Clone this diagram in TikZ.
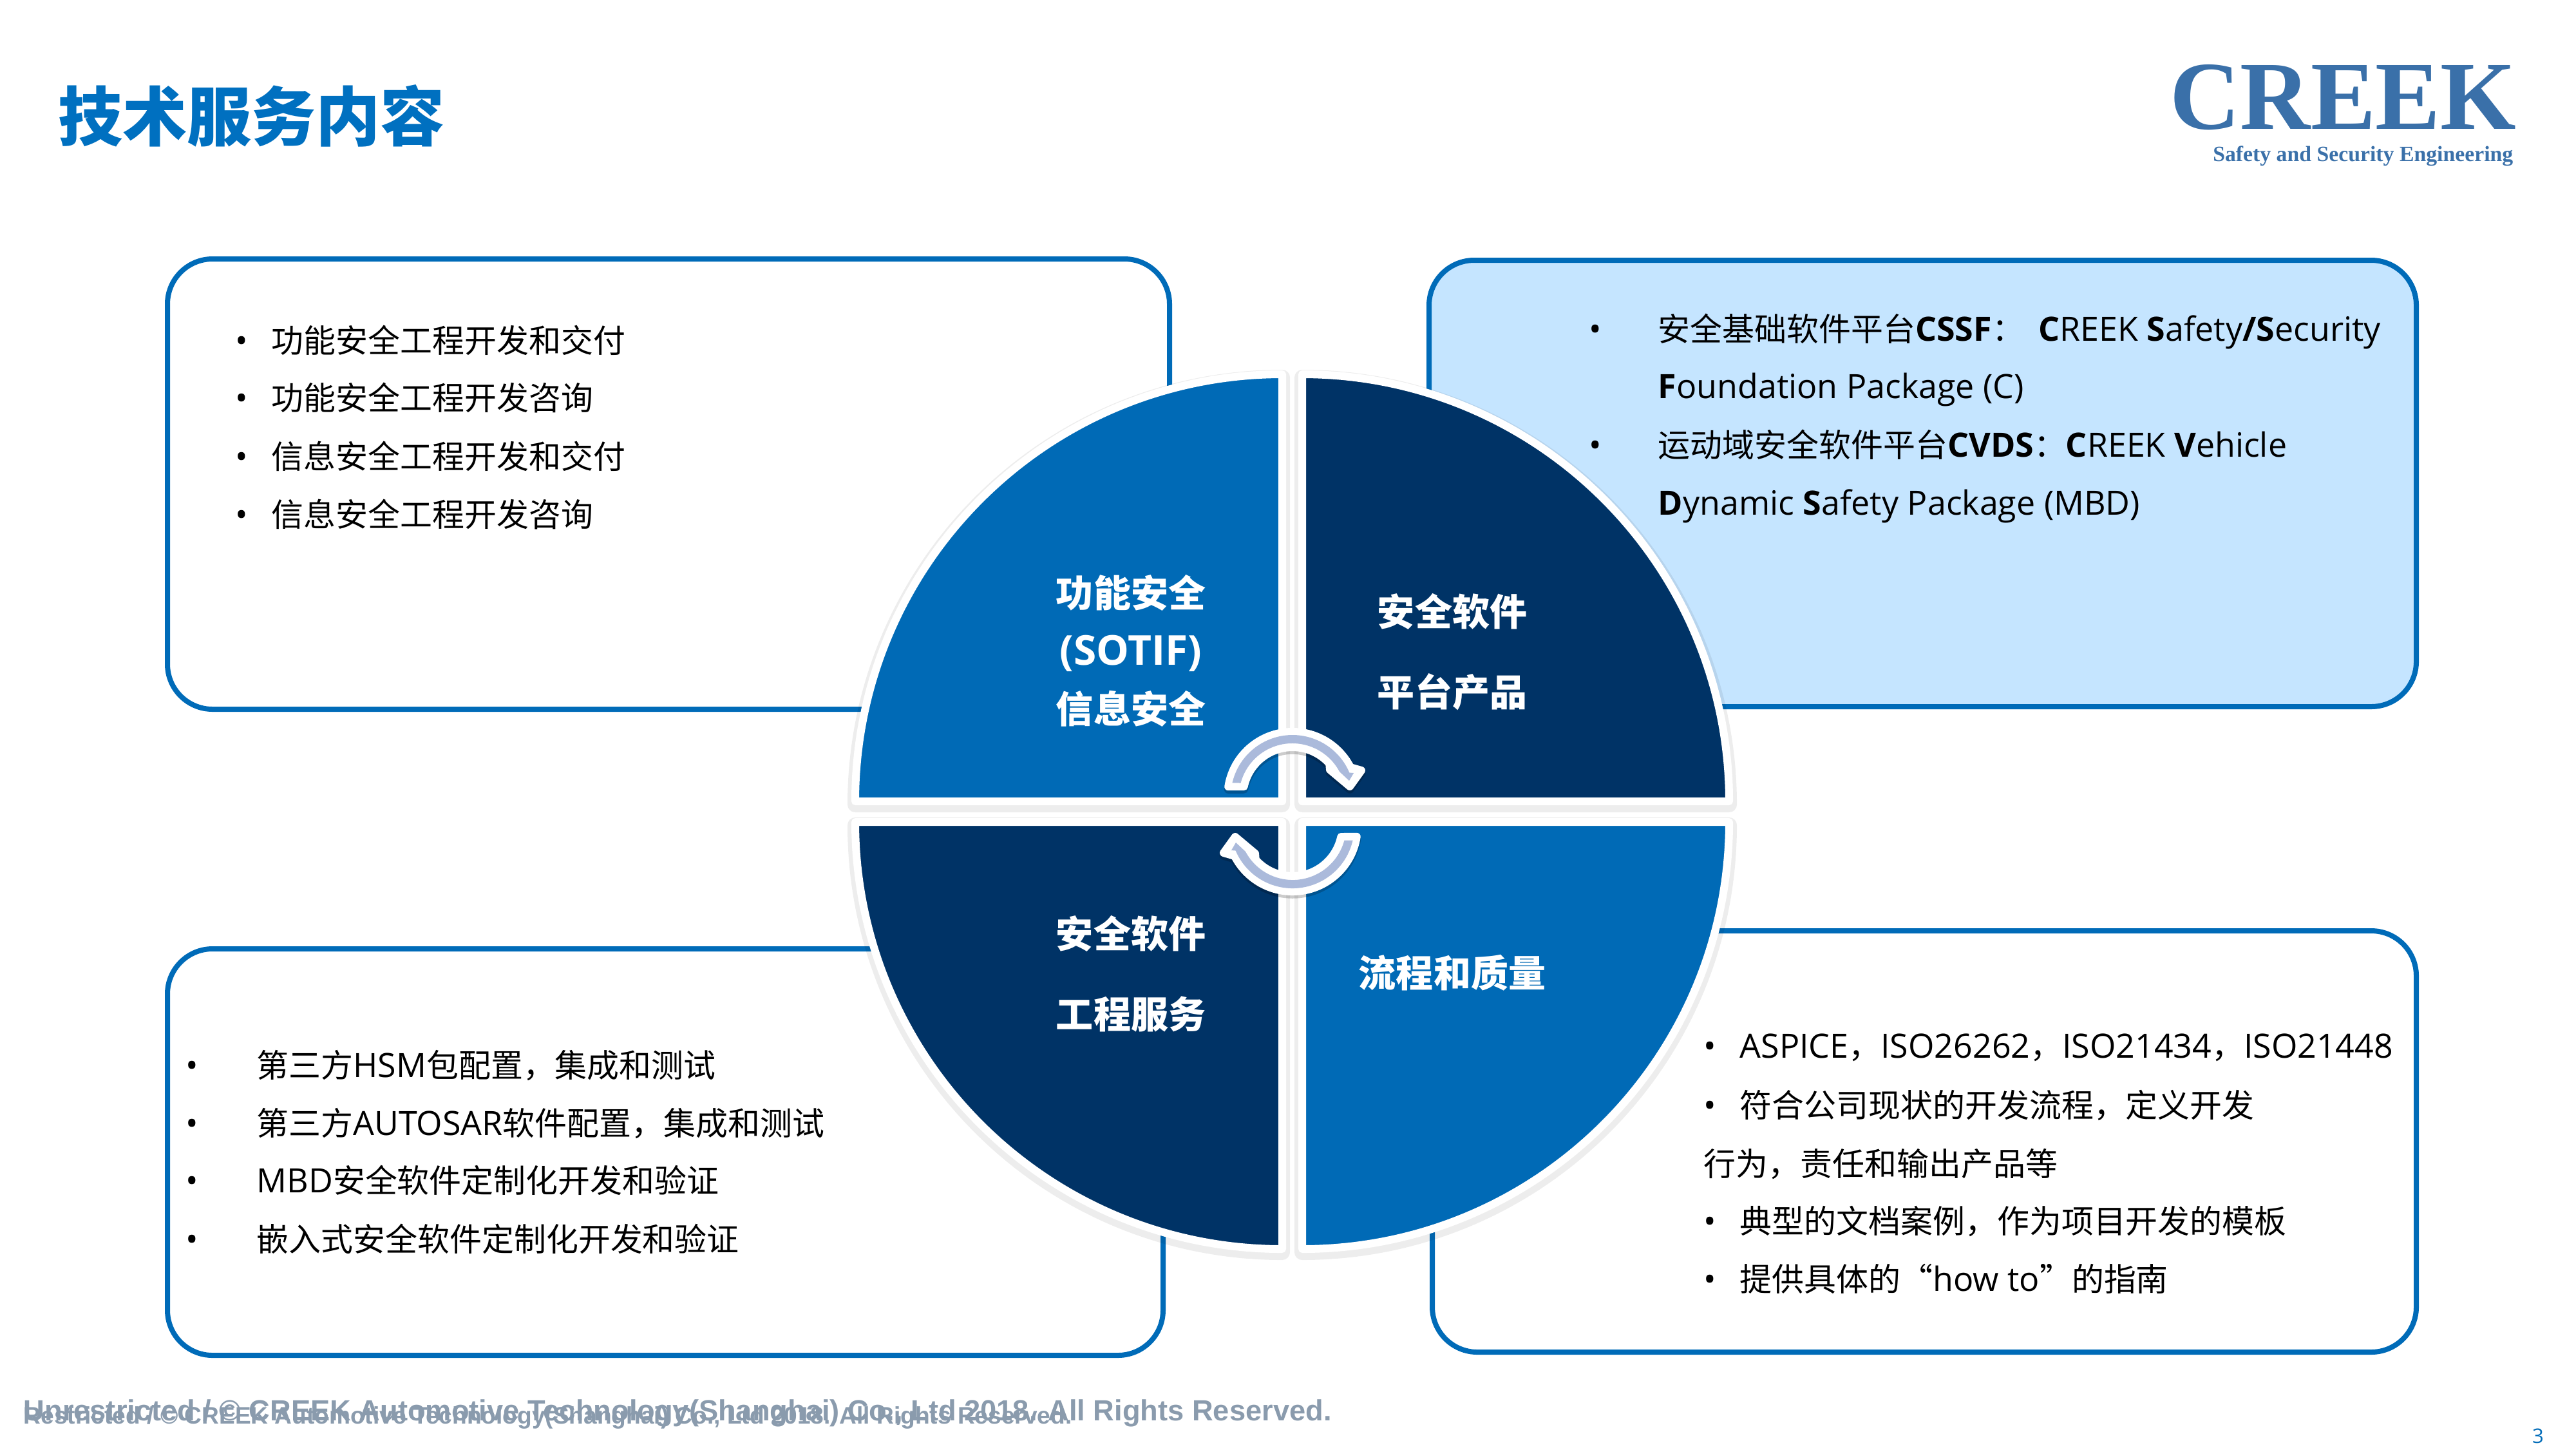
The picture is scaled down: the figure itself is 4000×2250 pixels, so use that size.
\documentclass[tikz,border=0pt]{standalone}
\usepackage{fontspec}
\setmainfont{Noto Sans CJK SC}
\newfontfamily\latinfont[Scale=1.04]{Open Sans}
\newfontfamily\footfont{Liberation Sans}
\newfontfamily\logofont{Liberation Serif}
\newcommand{\latn}[1]{{\latinfont #1}}
\newcommand{\latb}[1]{{\latinfont\bfseries #1}}
\definecolor{titleblue}{RGB}{0, 112, 192}
\definecolor{panelblue}{RGB}{0, 107, 184}
\definecolor{quadblue}{RGB}{0, 106, 182}
\definecolor{quadnavy}{RGB}{0, 51, 102}
\definecolor{panelfill}{RGB}{197, 229, 255}
\definecolor{turncolor}{RGB}{171, 186, 219}
\definecolor{footcolor}{RGB}{138, 155, 173}
\definecolor{logocolor}{RGB}{58, 112, 169}

\begin{document}
\begin{tikzpicture}[
    x=0.01cm, y=-0.01cm,
    panel/.style={draw=panelblue, line width=0.08cm, rounded corners=0.7cm},
    quadrant/.style={draw=white, line width=0.12cm, line join=round},
    quadshade/.style={fill=black, draw=black, line width=0.24cm, line join=round, opacity=0.07, shift={(0,5)}},
    turnback/.style={fill=white, draw=white, line width=0.12cm, line join=round,
        preaction={draw=black, opacity=0.2, line width=0.13cm, line join=round, transform canvas={yshift=-1.2pt}}},
    bodytext/.style={anchor=base west, inner sep=0pt, font=\fontsize{14.2}{17}\selectfont},
    dotmark/.style={anchor=base, inner sep=0pt, font=\latinfont\fontsize{14.2}{17}\selectfont},
    quadlabel/.style={anchor=base, inner sep=0pt, text=white, font=\bfseries\fontsize{16.5}{20}\selectfont}
]
    \useasboundingbox (0,0) rectangle (4000,2250);

    % Title and logo
    \node[anchor=base west, inner sep=0pt, text=titleblue, font=\bfseries\fontsize{28.45}{34}\selectfont] (title) at (90,218) {技术服务内容};
    \node[anchor=base west, inner sep=0pt, text depth=0pt, text=logocolor, font=\logofont\bfseries\fontsize{43}{50}\selectfont] (logo) at (3369,200) {CREEK};
    \node[anchor=base east, inner sep=0pt, text=logocolor, font=\logofont\bfseries\fontsize{9.6}{11}\selectfont] (tagline) at (3903,250) {Safety and Security Engineering};

    % Panels
    \draw[panel] (260,402) rectangle (1816,1101);
    \draw[panel, fill=panelfill] (2219,404) rectangle (3752,1097);
    \draw[panel] (260,1473) rectangle (1806,2104);
    \draw[panel] (2224,1445) rectangle (3752,2099);

    % Panel text, top left
    \foreach \n/\y/\txt in {1/547/功能安全工程开发和交付, 2/636/功能安全工程开发咨询, 3/727/信息安全工程开发和交付, 4/817/信息安全工程开发咨询} {
        \node[dotmark] (funcdot\n) at (375,\y) {•};
        \node[bodytext] (func\n) at (421,\y) {\txt};
    }

    % Panel text, top right
    \node[dotmark] (cssfdot) at (2477,529) {•};
    \node[bodytext] (cssf1) at (2574,529) {安全基础软件平台\latb{CSSF}：\ \ \latb{C}\latn{REEK }\latb{S}\latn{afety}\latb{/S}\latn{ecurity}};
    \node[bodytext] (cssf2) at (2574,618) {\latb{F}\latn{oundation Package (C)}};
    \node[dotmark] (cvdsdot) at (2477,709) {•};
    \node[bodytext] (cvds1) at (2574,709) {运动域安全软件平台\latb{CVDS}：\latb{C}\latn{REEK }\latb{V}\latn{ehicle}};
    \node[bodytext] (cvds2) at (2574,799) {\latb{D}\latn{ynamic }\latb{S}\latn{afety Package (MBD)}};

    % Panel text, bottom left
    \foreach \n/\y/\txt in {1/1672/{第三方\latn{HSM}包配置，集成和测试}, 2/1762/{第三方\latn{AUTOSAR}软件配置，集成和测试}, 3/1851/{\latn{MBD}安全软件定制化开发和验证}, 4/1942/嵌入式安全软件定制化开发和验证} {
        \node[dotmark] (servdot\n) at (298,\y) {•};
        \node[bodytext] (serv\n) at (398,\y) {\txt};
    }

    % Panel text, bottom right
    \node[dotmark] (procdot1) at (2655,1642) {•};
    \node[bodytext] (proc1) at (2701,1642) {\latn{ASPICE}，\latn{ISO26262}，\latn{ISO21434}，\latn{ISO21448}};
    \node[dotmark] (procdot2) at (2655,1734) {•};
    \node[bodytext] (proc2) at (2701,1734) {符合公司现状的开发流程，定义开发};
    \node[bodytext] (proc2b) at (2645,1825) {行为，责任和输出产品等};
    \node[dotmark] (procdot3) at (2655,1914) {•};
    \node[bodytext] (proc3) at (2701,1914) {典型的文档案例，作为项目开发的模板};
    \node[dotmark] (procdot4) at (2655,2004) {•};
    \node[bodytext] (proc4) at (2701,2004) {提供具体的“\latn{how to}”的指南};

    % Quadrants
    \foreach \cx/\cy/\sa in {1991/1244/180, 2022/1244/270, 1991/1276/90, 2022/1276/0}
        \path[quadshade] (\cx,\cy) -- ++(\sa:663) arc[start angle=\sa, delta angle=90, radius=663] -- cycle;
    \foreach \cx/\cy/\sa/\col in {1991/1244/180/quadblue, 2022/1244/270/quadnavy, 1991/1276/90/quadnavy, 2022/1276/0/quadblue}
        \path[quadrant, fill=\col] (\cx,\cy) -- ++(\sa:663) arc[start angle=\sa, delta angle=90, radius=663] -- cycle;

    % Quadrant labels
    \node[quadlabel] (safety1) at (1756,942) {功能安全};
    \node[quadlabel] (safety2) at (1756,1032) {\fontsize{17.5}{20}\selectfont\latb{(SOTIF)}};
    \node[quadlabel] (safety3) at (1756,1122) {信息安全};
    \node[quadlabel] (platform1) at (2255,971) {安全软件};
    \node[quadlabel] (platform2) at (2255,1096) {平台产品};
    \node[quadlabel] (engineering1) at (1756,1471) {安全软件};
    \node[quadlabel] (engineering2) at (1756,1596) {工程服务};
    \node[quadlabel] (quality) at (2255,1532) {流程和质量};

    % Turning arrows
    \foreach \cy/\turn in {1237/0, 1283/180} {
        \path[turnback, shift={(2007,\cy)}, rotate=\turn] (189:101) arc[start angle=189, end angle=333, radius=101]
            -- (107,-41) -- (89,-16) -- (58,-42) -- (318:77) arc[start angle=318, end angle=192, radius=77] -- cycle;
        \path[fill=turncolor, shift={(2007,\cy)}, rotate=\turn] (193:96) arc[start angle=193, end angle=337, radius=96]
            -- (95,-37) -- (88,-25) -- (73,-39) arc[start angle=332, end angle=195, radius=83] -- cycle;
    }

    % Footer
    \node[anchor=base west, inner sep=0pt, text=footcolor, font=\footfont\bfseries\fontsize{12.87}{16}\selectfont] (footupper) at (36,2205) {Unrestricted / © CREEK Automotive Technology(Shanghai) Co., Ltd 2018. All Rights Reserved.};
    \node[anchor=base west, inner sep=0pt, text=footcolor, font=\footfont\bfseries\fontsize{10.55}{13}\selectfont] (footlower) at (36,2210) {Restricted / © CREEK Automotive Technology(Shanghai) Co., Ltd 2018. All Rights Reserved.};
    \node[anchor=base, inner sep=0pt, text=panelblue, font=\latinfont\fontsize{8.5}{10}\selectfont] (pagenum) at (3941,2240) {3};
\end{tikzpicture}
\end{document}
